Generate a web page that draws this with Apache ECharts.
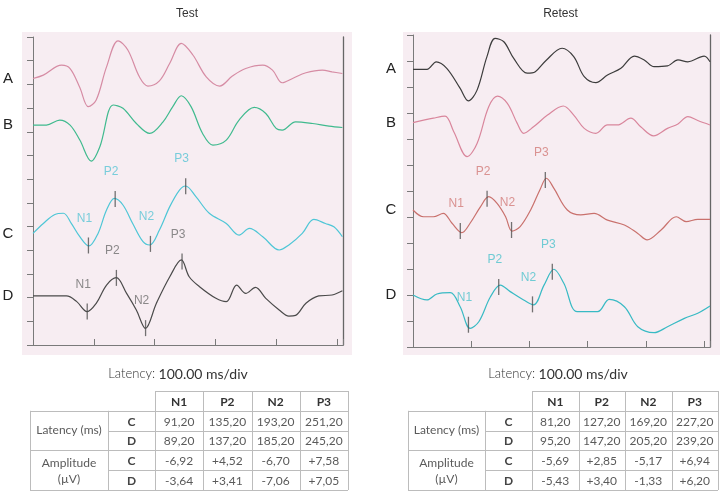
<!DOCTYPE html>
<html>
<head>
<meta charset="utf-8">
<script src="https://cdn.jsdelivr.net/npm/echarts@6/dist/echarts.min.js"></script>
<style>
  html, body { margin: 0; background: #fff; }
  #container { width: 723px; height: 493px; }
</style>
</head>
<body>
<div id="container"></div>
<script type="text/javascript">
// ---- data (time in ms, amplitude in axis units: 10 = one tick) ----
var traceNames = ['A', 'B', 'C', 'D'];
var peakNames = ['N1', 'P2', 'N2', 'P3'];

var testA = [[0,112.5],[17,113.9],[47,118.1],[61,116.7],[77,108.7],[91,100.6],[104,103.4],[121,117.4],[140,128.4],[156,124.5],[175,113.2],[189,109.3],[208,111.5],[225,118.9],[244,127.3],[263,122.4],[285,113.2],[307,109.3],[328,113.5],[350,116.7],[378,118.1],[394,116],[410,110.7],[427,112.5],[449,114.9],[476,116],[492,115.3],[509,114.6]];
var testB = [[0,92.8],[22,92.8],[44,94.9],[61,92.8],[77,86.5],[96,77.6],[110,83.7],[132,101.3],[148,99.9],[170,93.5],[192,89.3],[214,94.2],[230,100.6],[244,105.2],[260,100.6],[279,89.3],[296,84.4],[318,86.5],[339,94.9],[364,100.3],[383,97.7],[400,91.4],[410,90.7],[432,94.2],[460,93.5],[487,92.4],[509,91.8]];
var testC = [[0,47.1],[17,51.3],[36,55.1],[50,55.6],[63,51.3],[77,45.7],[92,41.8],[107,47.1],[121,57],[134,61.9],[148,59.1],[164,51.3],[181,43.6],[192,42.2],[208,48.5],[225,58.4],[241,65.4],[251,67.1],[268,62.6],[290,55.6],[318,51.3],[339,46.4],[356,49.2],[378,45.7],[405,40.1],[421,42.2],[443,47.1],[462,53],[481,51.3],[495,49.9],[509,45.7]];
var testD = [[0,20.7],[55,20.7],[72,18.3],[89,14.1],[104,17.6],[121,25.3],[137,28.4],[154,21.8],[170,14.8],[185,7],[203,17.6],[225,28.8],[244,35.9],[257,28.8],[274,24.6],[301,19.7],[318,18.3],[335,25.3],[350,21.8],[366,24.3],[383,19.7],[405,14.8],[421,12.2],[432,12.5],[449,17.6],[470,20.7],[492,21.1],[509,22.9]];

var retestA = [[0,106.8],[24,106.8],[40,109.7],[58,107.2],[81,99.5],[95,94.7],[110,98.8],[127,111.7],[141,118.7],[156,117.4],[173,111],[196,105.3],[210,105.9],[228,110.1],[256,114.9],[276,111.7],[294,104],[314,101.7],[334,104.6],[357,107.2],[380,111.9],[397,110.4],[414,107.8],[437,108.1],[455,110.4],[472,109.7],[500,111.9],[510,109.7]];
var retestB = [[0,86.3],[35,88],[55,88.8],[70,82.8],[93,73.2],[110,78.3],[130,92.4],[145,96.5],[162,93.7],[179,86],[190,82.2],[207,84.7],[231,89.2],[258,92.7],[276,89.2],[294,84.1],[314,82.2],[334,85.4],[351,85.4],[374,88],[391,84.7],[413,81.2],[437,84.1],[455,85.8],[472,88.6],[489,87.1],[510,85.4]];
var retestC = [[0,52.7],[18,50.1],[35,50.1],[52,51.4],[67,47.6],[84,44],[98,47.6],[116,54],[130,57.8],[144,55.3],[159,50.1],[170,44.6],[184,46.3],[202,52.7],[219,61],[229,64.9],[242,61],[265,52.7],[288,50.8],[311,51.4],[334,48.8],[363,46.9],[386,43.7],[402,41.2],[426,45],[452,50.1],[469,48.2],[489,49.1],[510,49.1]];
var retestD = [[0,20],[24,18.1],[41,20.4],[64,20.9],[81,15.5],[98,7.2],[113,9.7],[133,19.3],[150,23.8],[167,21.3],[190,18.1],[207,16.2],[225,23.8],[242,29.9],[259,24.5],[282,13.6],[317,13.6],[337,18.3],[363,15.5],[386,7.8],[414,5.5],[437,7.8],[466,11],[489,13],[510,15.8]];

// table values
var testLatC = [91.2, 135.2, 193.2, 251.2];
var testLatD = [89.2, 137.2, 185.2, 245.2];
var testAmpC = [-6.92, 4.52, -6.70, 7.58];
var testAmpD = [-3.64, 3.41, -7.06, 7.05];
var retestLatC = [81.2, 127.2, 169.2, 227.2];
var retestLatD = [95.2, 147.2, 205.2, 239.2];
var retestAmpC = [-5.69, 2.85, -5.17, 6.94];
var retestAmpD = [-5.43, 3.40, -1.33, 6.20];

// ---- helpers ----
function valueAt(trace, t) {
    for (var i = 1; i < trace.length; i++) {
        if (trace[i][0] >= t) {
            var a = trace[i - 1], b = trace[i];
            return a[1] + (b[1] - a[1]) * (t - a[0]) / (b[0] - a[0]);
        }
    }
    return trace[trace.length - 1][1];
}
function fmtLat(v) { return v.toFixed(2).replace('.', ','); }
function fmtAmp(v) { return (v > 0 ? '+' : '') + v.toFixed(2).replace('.', ','); }

var bgColor = '#f7edf2';
var axisColor = '#7a7a7a';
var fontTable = 'Lato, "Open Sans", sans-serif';

var panels = [
    { title: 'Test', grid: { left: 33, top: 37, width: 310, height: 308 }, ymax: 130,
      traces: [testA, testB, testC, testD],
      colors: ['#d68ca4', '#3fba8e', '#4ec6d6', '#4a4a4a'],
      labelColors: ['#58c4d4', '#6e6e6e'],
      lat: [testLatC, testLatD], amp: [testAmpC, testAmpD],
      bg: [22, 32, 330, 323], table: { x0: 30, w: [78, 47, 48.25, 48.25, 48.25, 48.25] } },
    { title: 'Retest', grid: { left: 413, top: 35, width: 297, height: 312 }, ymax: 120,
      traces: [retestA, retestB, retestC, retestD],
      colors: ['#3c3c3c', '#d9869c', '#c9716d', '#38bac4'],
      labelColors: ['#d27a78', '#4cc2cc'],
      lat: [retestLatC, retestLatD], amp: [retestAmpC, retestAmpD],
      bg: [403, 32, 317, 323], table: { x0: 408, w: [77, 47, 46.5, 46.5, 46.5, 46.5] } }
];

var grids = [], xAxes = [], yAxes = [], series = [], graphics = [];

panels.forEach(function (p, pi) {
    grids.push(p.grid);
    xAxes.push({
        gridIndex: pi, type: 'value', min: 0, max: 510, interval: 100,
        axisLine: { show: true, lineStyle: { color: axisColor, width: 1 } },
        axisTick: { show: true, inside: true, length: 6, lineStyle: { color: axisColor } },
        axisLabel: { show: false }, splitLine: { show: false }
    });
    yAxes.push({
        gridIndex: pi, type: 'value', min: 0, max: p.ymax, interval: 10,
        axisLine: { show: true, lineStyle: { color: axisColor, width: 1 } },
        axisTick: { show: true, inside: false, length: 6, lineStyle: { color: axisColor } },
        axisLabel: { show: false }, splitLine: { show: false }
    });
    yAxes.push({
        gridIndex: pi, type: 'value', position: 'right', min: 0, max: p.ymax,
        axisLine: { show: true, lineStyle: { color: '#666', width: 1.3 } },
        axisTick: { show: false }, axisLabel: { show: false }, splitLine: { show: false }
    });

    p.traces.forEach(function (tr, ti) {
        series.push({
            name: p.title + ' ' + traceNames[ti], type: 'line', xAxisIndex: pi, yAxisIndex: pi * 2,
            data: tr, showSymbol: false, smooth: 0.35, silent: true,
            lineStyle: { color: p.colors[ti], width: 1.2 }
        });
    });

    // peak markers on traces C and D, placed at the tabulated latencies
    [2, 3].forEach(function (ti, k) {
        var tr = p.traces[ti];
        series.push({
            name: p.title + ' peaks ' + traceNames[ti], type: 'scatter', xAxisIndex: pi, yAxisIndex: pi * 2,
            symbol: 'rect', symbolSize: [1.3, 16], silent: true, z: 5,
            itemStyle: { color: '#505050' },
            data: p.lat[k].map(function (t, i) {
                return { name: peakNames[i], value: [t, valueAt(tr, t)] };
            }),
            label: {
                show: true, position: 'inside', offset: [-4, -27], formatter: '{b}',
                color: p.labelColors[k], fontSize: 12, fontFamily: '"Liberation Sans", sans-serif'
            }
        });
    });

    graphics.push({
        type: 'rect', z: -10, silent: true,
        shape: { x: p.bg[0], y: p.bg[1], width: p.bg[2], height: p.bg[3] },
        style: { fill: bgColor }
    });
    graphics.push({
        type: 'text', x: p.grid.left + p.grid.width / 2 - 1, y: 14, silent: true,
        style: { text: p.title, align: 'center', verticalAlign: 'middle', fill: '#333',
                 font: '12px "Liberation Sans", Arial, sans-serif' }
    });
    graphics.push({
        type: 'text', x: p.grid.left + 145, y: 374, silent: true,
        style: {
            text: '{a|Latency:} {b|100.00 ms/div}', align: 'center', verticalAlign: 'middle',
            rich: {
                a: { fontSize: 13, fontFamily: fontTable, fill: '#333', fontWeight: 300 },
                b: { fontSize: 14, fontFamily: fontTable, fill: '#333' }
            }
        }
    });

    // table
    var xs = [p.table.x0];
    p.table.w.forEach(function (w) { xs.push(xs[xs.length - 1] + w); });
    var y0 = 391, rh = 19.8;
    var ys = [];
    for (var r = 0; r <= 5; r++) ys.push(y0 + r * rh);
    var lineStyle = { stroke: '#bcbcbc', lineWidth: 1 };
    function hline(y, xa, xb) {
        graphics.push({ type: 'line', silent: true, shape: { x1: xa, y1: Math.round(y) + 0.5, x2: xb, y2: Math.round(y) + 0.5 }, style: lineStyle });
    }
    function vline(x, ya, yb) {
        graphics.push({ type: 'line', silent: true, shape: { x1: Math.round(x) + 0.5, y1: ya, x2: Math.round(x) + 0.5, y2: yb }, style: lineStyle });
    }
    hline(ys[0], xs[2], xs[6]);
    hline(ys[1], xs[0], xs[6]);
    hline(ys[2], xs[1], xs[6]);
    hline(ys[3], xs[0], xs[6]);
    hline(ys[4], xs[1], xs[6]);
    hline(ys[5], xs[0], xs[6]);
    vline(xs[0], ys[1], ys[5]);
    vline(xs[1], ys[1], ys[5]);
    for (var c = 2; c <= 6; c++) vline(xs[c], ys[0], ys[5]);

    function cellText(txt, cx, cy, bold, color) {
        graphics.push({
            type: 'text', x: cx, y: cy, silent: true,
            style: { text: txt, align: 'center', verticalAlign: 'middle', fill: color || '#5a5a5a',
                     font: (bold ? 'bold ' : '') + '12px ' + fontTable, lineHeight: 16 }
        });
    }
    peakNames.forEach(function (n, i) {
        cellText(n, (xs[i + 2] + xs[i + 3]) / 2, (ys[0] + ys[1]) / 2 + 1, true, '#333');
    });
    cellText('Latency (ms)', (xs[0] + xs[1]) / 2, ys[2], false);
    cellText('Amplitude\n(\u00b5V)', (xs[0] + xs[1]) / 2, ys[4] + 1, false);
    ['C', 'D', 'C', 'D'].forEach(function (g, r) {
        cellText(g, (xs[1] + xs[2]) / 2, (ys[r + 1] + ys[r + 2]) / 2 + 1, true, '#444');
    });
    var rows = [p.lat[0].map(fmtLat), p.lat[1].map(fmtLat), p.amp[0].map(fmtAmp), p.amp[1].map(fmtAmp)];
    rows.forEach(function (vals, r) {
        vals.forEach(function (v, i) {
            cellText(v, (xs[i + 2] + xs[i + 3]) / 2, (ys[r + 1] + ys[r + 2]) / 2 + 1, false);
        });
    });
});

var dom = document.getElementById('container');
var myChart = echarts.init(dom, null, { renderer: 'canvas' });
var option = {
    animation: false,
    backgroundColor: '#ffffff',
    grid: grids,
    xAxis: xAxes,
    yAxis: yAxes,
    series: series,
    graphic: graphics
};
myChart.setOption(option);

// trace letters, placed at each trace's starting level
var letters = [];
panels.forEach(function (p, pi) {
    p.traces.forEach(function (tr, ti) {
        var pt = myChart.convertToPixel({ gridIndex: pi }, [0, tr[0][1]]);
        letters.push({
            type: 'text', x: p.grid.left - (pi === 0 ? 25 : 22), y: pt[1], silent: true,
            style: { text: traceNames[ti], align: 'center', verticalAlign: 'middle', fill: '#222',
                     font: '15px "Liberation Sans", Arial, sans-serif' }
        });
    });
});
myChart.setOption({ graphic: graphics.concat(letters) });
</script>
</body>
</html>
